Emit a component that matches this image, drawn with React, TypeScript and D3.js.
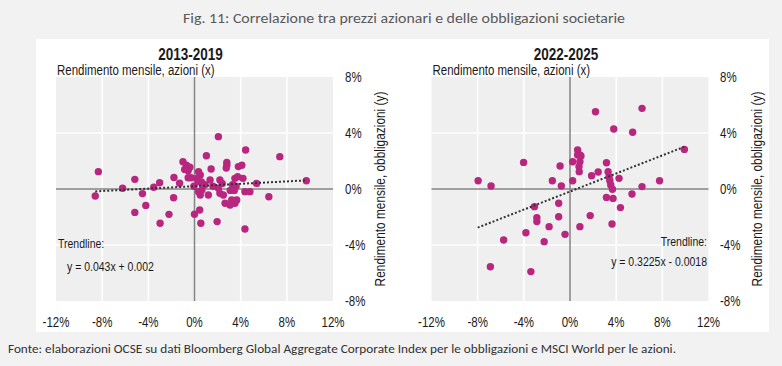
import React from "react";
import * as d3 from "d3";

const W = 782;
const H = 366;

const TITLE = "Fig. 11: Correlazione tra prezzi azionari e delle obbligazioni societarie";
const SOURCE = "Fonte: elaborazioni OCSE su dati Bloomberg Global Aggregate Corporate Index per le obbligazioni e MSCI World per le azioni.";
const PANEL_TITLES = ["2013-2019", "2022-2025"];
const X_LABEL = "Rendimento mensile, azioni (x)";
const Y_LABEL = "Rendimento mensile, obbligazioni (y)";
const X_TICKS = [-12, -8, -4, 0, 4, 8, 12];
const Y_TICKS = [8, 4, 0, -4, -8];
const TREND_TEXT = ["y = 0.043x + 0.002", "y = 0.3225x - 0.0018"];
const TREND_SLOPE = [0.043, 0.3225];
const TREND_INTERCEPT = [0.2, -0.18]; // in %
const TREND_X_RANGE = [[-8.6, 9.7], [-8.0, 9.9]];

// 2013-2019 (monthly returns, %)
const LEFT_X = [
  -8.33, -8.6, -6.23, -5.17, -4.51, -4.22, -5.17, -3.53, -3.02, -1.81, -2.21, -2.98, -1.78, -1.29,
  -1.0, -0.7, -0.4, -0.55, -0.85, -0.55, -0.3, -0.05, 0.0, 2.07, 4.43, 7.39, 9.69, 1.03, 1.44, 2.8,
  2.8, 2.75, 3.8, 4.1, 0.35, 0.5, 0.2, 0.35, 1.35, 2.2, 2.4, 3.5, 3.74, 4.2, 5.38, 3.3, 3.6, 0.35,
  0.5, 0.64, 1.2, 2.07, 2.2, 2.5, 3.1, 3.45, 4.37, 4.8, 6.44, 2.65, 3.08, 3.5, 3.66, 3.22, 0.55,
  1.96, 4.37, 0.9, 0.6, 1.6, 0.45,
];
const LEFT_Y = [
  1.24, -0.5, 0.05, 0.69, -0.33, -1.17, -1.67, 0.12, 0.45, -0.62, -1.81, -2.45, 0.83, 0.41, 1.95,
  1.7, 1.55, 1.3, 1.4, 0.8, 0.8, 0.2, -1.8, 3.74, 2.79, 2.31, 0.59, 2.38, 1.43, 1.9, 1.7, 1.5, 1.6,
  1.7, 1.24, 1.0, 0.76, 0.52, 0.64, 0.64, 0.4, 0.76, 0.88, 0.76, 0.4, 0.3, 0.2, -0.19, -0.43, -0.07,
  -0.43, 0.05, -0.31, -0.43, -0.1, -0.1, -0.19, -0.19, -0.55, -1.02, -1.14, -1.02, -0.79, -0.79,
  -2.45, -2.33, -2.86, 0.3, 0.5, 0.2, -1.5,
];

// 2022-2025 (monthly returns, %)
const RIGHT_X = [
  -7.96, -6.84, -4.02, -0.86, -1.53, -0.75, 0.23, 0.23, -3.08, -0.98, -0.98, -2.87, -2.87, -1.81,
  -3.82, -0.43, -2.24, -5.75, -6.9, -3.39, 2.21, 6.24, 3.79, 5.43, 9.91, 0.66, 0.86, 0.66, 0.95,
  0.86, 0.78, 0.8, 3.16, 2.44, 1.87, 3.3, 3.39, 3.45, 3.53, 3.68, 4.25, 7.76, 6.24, 5.37, 3.16,
  3.73, 4.37, 1.75, 0.86, 3.64,
];
const RIGHT_Y = [
  0.59, 0.21, 1.9, 1.64, 0.59, 0.21, 1.95, 0.59, -1.26, -1.02, -1.98, -2.05, -2.33, -2.69, -3.12,
  -3.24, -3.76, -3.64, -5.55, -5.9, 5.52, 5.76, 4.29, 4.05, 2.83, 2.79, 2.43, 2.43, 2.36, 1.95,
  1.6, 1.24, 1.88, 1.21, 0.95, 1.24, 0.88, 0.59, 0.29, -0.02, 0.76, 0.59, 0.17, -0.36, -0.6, -0.67,
  -1.33, -1.9, -2.69, -2.5,
];

const DOT = "#b8267f";
const SANS = "'Liberation Sans', Arial, sans-serif";
const CALIBRI = "Carlito, Calibri, Lato, 'Open Sans', sans-serif";

type TProps = {
  x: number;
  y: number;
  anchor?: "start" | "middle" | "end";
  size?: number;
  weight?: string;
  rotate?: number;
  children: React.ReactNode;
};

// Narrow text: Liberation Sans compressed horizontally (Arial Narrow look)
function NT({ x, y, anchor = "start", size = 13.5, weight = "normal", rotate = 0, children }: TProps) {
  return (
    <text
      transform={`translate(${x},${y}) rotate(${rotate}) scale(0.82,1)`}
      textAnchor={anchor}
      fontFamily={SANS}
      fontSize={size}
      fontWeight={weight}
      fill="#1a1a1a"
    >
      {children}
    </text>
  );
}

type PanelProps = {
  idx: number;
  xs: number[];
  ys: number[];
  x0: number;
  x1: number;
  tickX: number;
  yTitleX: number;
};

function Panel({ idx, xs, ys, x0, x1, tickX, yTitleX }: PanelProps) {
  const x = d3.scaleLinear().domain([-12, 12]).range([x0, x1]);
  const y = d3.scaleLinear().domain([-8, 8]).range([301, 77]);
  const pts = xs.map((v, i) => [v, ys[i]] as [number, number]);
  const [tx0, tx1] = TREND_X_RANGE[idx];
  const trend: [number, number][] = [tx0, tx1].map((v) => [v, TREND_SLOPE[idx] * v + TREND_INTERCEPT[idx]]);
  const line = d3
    .line<[number, number]>()
    .x((d) => x(d[0]))
    .y((d) => y(d[1]));
  const cx = x(0) - 4;
  return (
    <g>
      <rect x={x(-12)} y={y(8)} width={x(12) - x(-12)} height={y(-8) - y(8)} fill="#efefef" />
      {X_TICKS.filter((t) => t !== 0 && Math.abs(t) !== 12).map((t) => (
        <line key={"gx" + t} x1={x(t)} x2={x(t)} y1={y(8)} y2={y(-8)} stroke="#fff" strokeWidth={1.6} />
      ))}
      {Y_TICKS.filter((t) => t !== 0 && Math.abs(t) !== 8).map((t) => (
        <line key={"gy" + t} x1={x(-12)} x2={x(12)} y1={y(t)} y2={y(t)} stroke="#fff" strokeWidth={1.6} />
      ))}
      <line x1={x(0)} x2={x(0)} y1={y(8)} y2={y(-8)} stroke="#858585" strokeWidth={1.5} />
      <line x1={x(-12)} x2={x(12)} y1={y(0)} y2={y(0)} stroke="#858585" strokeWidth={1.5} />
      {pts.map((p, i) => (
        <circle key={i} cx={x(p[0])} cy={y(p[1])} r={3.7} fill={DOT} />
      ))}
      <path d={line(trend) || ""} fill="none" stroke="#333" strokeWidth={2} strokeDasharray="2,2" />
      {X_TICKS.map((t) => (
        <NT key={"tx" + t} x={x(t)} y={327} anchor="middle" size={14}>
          {t + "%"}
        </NT>
      ))}
      {Y_TICKS.map((t) => (
        <NT key={"ty" + t} x={tickX} y={y(t) + 5} size={14}>
          {t + "%"}
        </NT>
      ))}
      <NT x={cx} y={60} anchor="middle" size={16.5} weight="bold">
        {PANEL_TITLES[idx]}
      </NT>
      <NT x={x0 + 1} y={75} size={14}>
        {X_LABEL}
      </NT>
      <NT x={yTitleX} y={y(0)} anchor="middle" size={14.5} rotate={-90}>
        {Y_LABEL}
      </NT>
      {idx === 0 ? (
        <g>
          <NT x={58} y={248} size={12.8}>Trendline:</NT>
          <NT x={67} y={271} size={12.8}>{TREND_TEXT[0]}</NT>
        </g>
      ) : (
        <g>
          <NT x={707} y={246} size={12.8} anchor="end">Trendline:</NT>
          <NT x={707} y={266} size={12.8} anchor="end">{TREND_TEXT[1]}</NT>
        </g>
      )}
    </g>
  );
}

export default function App() {
  return (
    <svg width={W} height={H} style={{ position: "absolute", left: 0, top: 0, display: "block" }}>
      <rect x={0} y={0} width={W} height={H} fill="#f2f2f2" />
      <rect x={36} y={39} width={733} height={293} fill="#ffffff" />
      <text x={183} y={23} fontFamily={CALIBRI} fontSize={14} fill="#595959" textLength={442} lengthAdjust="spacingAndGlyphs">
        {TITLE}
      </text>
      <Panel idx={0} xs={LEFT_X} ys={LEFT_Y} x0={56} x1={333} tickX={345} yTitleX={385} />
      <Panel idx={1} xs={RIGHT_X} ys={RIGHT_Y} x0={431.5} x1={708.5} tickX={720} yTitleX={762} />
      <text x={8} y={353} fontFamily={CALIBRI} fontSize={12.5} fill="#333" textLength={668} lengthAdjust="spacingAndGlyphs">
        {SOURCE}
      </text>
    </svg>
  );
}
